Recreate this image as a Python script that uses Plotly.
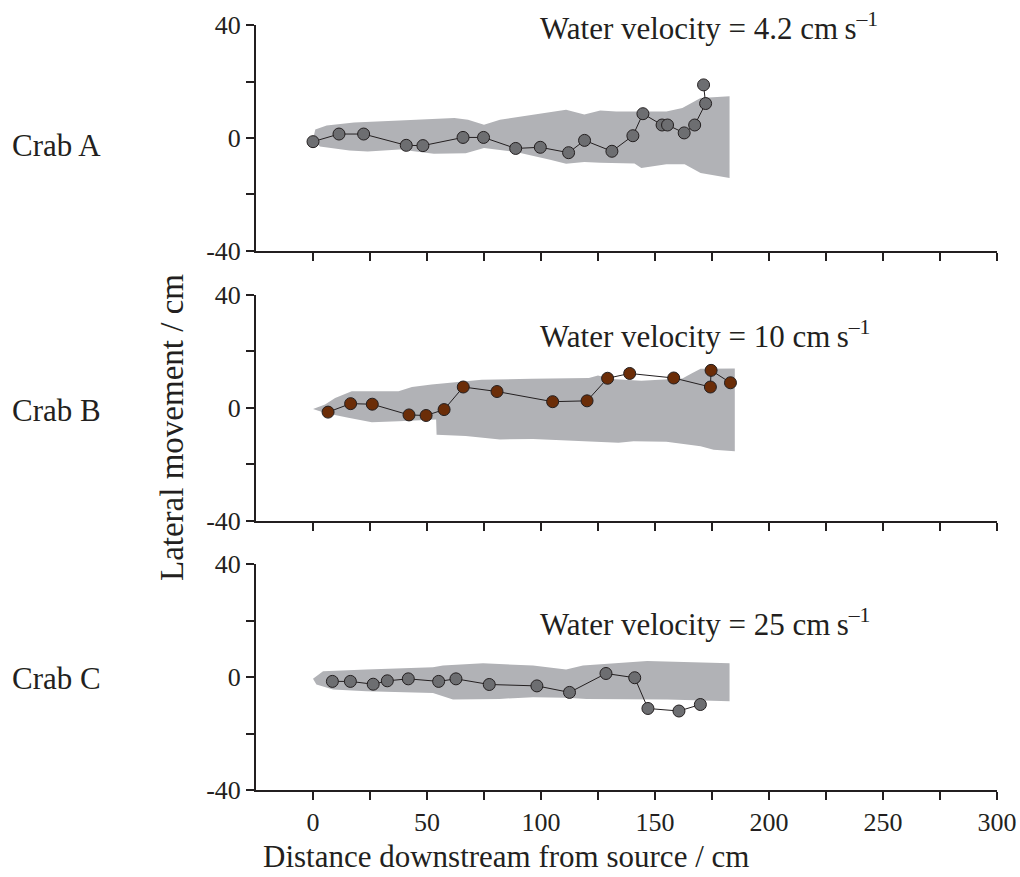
import plotly.graph_objects as go

# ---------------- data ----------------
crab_labels = ["Crab A", "Crab B", "Crab C"]
velocity_labels = ["4.2", "10", "25"]

a_x = [0, 11.4, 22.2, 40.9, 48.2, 65.8, 74.8, 88.9, 99.7, 112.1, 119.1, 131.1, 140.3, 144.7, 153.1, 155.5, 162.8, 167.4, 172.2, 171.3]
a_y = [-1.3, 1.4, 1.4, -2.6, -2.7, 0.2, 0.2, -3.7, -3.3, -5.2, -0.85, -4.7, 0.8, 8.6, 4.6, 4.6, 1.8, 4.6, 12.2, 18.8]

b_x = [6.6, 16.5, 26, 42.1, 49.6, 57.5, 65.9, 80.7, 105.1, 120.2, 129.2, 138.9, 158.2, 174.3, 174.6, 183.1]
b_y = [-1.5, 1.5, 1.3, -2.5, -2.7, -0.6, 7.4, 5.8, 2.2, 2.5, 10.5, 12.2, 10.6, 7.4, 13.3, 8.9]

c_x = [8.5, 16.4, 26.4, 32.6, 41.8, 55.1, 62.7, 77.3, 98.2, 112.5, 128.5, 141.1, 146.9, 160.5, 169.9]
c_y = [-1.5, -1.5, -2.5, -1.3, -0.6, -1.5, -0.6, -2.6, -3.1, -5.4, 1.3, -0.2, -11.1, -12, -9.7]

# plume (grey band) outlines
a_up_x = [0, 1, 6, 18, 38, 62, 68, 75, 82, 97, 111, 119, 126, 133, 141, 155, 162, 170, 182.7]
a_up_y = [-0.5, 3.0, 4.4, 5.5, 6.2, 7.1, 6.5, 4.7, 6.5, 8.3, 10, 8.3, 9.7, 9.4, 9.4, 9.4, 10.6, 14.2, 14.8]
a_lo_x = [0, 3, 16, 24, 38, 53, 67, 75, 89, 104, 111, 119, 126, 135, 141, 144, 155, 163, 170, 182.7]
a_lo_y = [-0.5, -3, -4.4, -4.8, -4.1, -5.6, -5.4, -3.5, -5, -7.7, -9.1, -8.5, -8.8, -9, -9, -10.6, -9.3, -9.3, -12.4, -14.2]

b_up_x = [0, 5.3, 9.7, 17, 37.5, 43.4, 52, 74, 96, 121, 125, 131, 144, 156, 162, 166, 170, 185]
b_up_y = [-0.4, 1.2, 3.5, 5.9, 5.9, 7.4, 8.3, 10, 10.3, 10.6, 11.5, 10.2, 9.6, 10.0, 10.4, 12.2, 13.9, 14.0]
b_lo_x = [0, 5.3, 15.5, 25.8, 37.5, 54, 54.2, 67, 82, 96.5, 111, 134, 140.6, 155, 170, 175.7, 185]
b_lo_y = [-0.4, -1.8, -3.5, -5.1, -4.7, -4.1, -9.5, -10, -11.2, -11, -11.5, -12.4, -11.8, -12, -13.6, -14.8, -15.4]

c_up_x = [0, 4.4, 23.4, 52.6, 57, 74.6, 96.5, 111, 118.4, 134, 146.6, 182.7]
c_up_y = [-0.6, 2.1, 2.7, 3.5, 4.1, 4.9, 4.1, 2.7, 4.1, 4.9, 5.7, 4.9]
c_lo_x = [0, 1.5, 8.8, 23.4, 52.6, 61.4, 81.8, 96.5, 111, 120, 134, 155.5, 182.7]
c_lo_y = [-0.6, -2.6, -4.4, -5, -5.6, -7.9, -7.7, -7.1, -7.3, -7.7, -7.9, -7.9, -8.5]

x_major_ticks = [0, 50, 100, 150, 200, 250, 300]
x_major_text = ["0", "50", "100", "150", "200", "250", "300"]
x_minor_ticks = [25, 75, 125, 175, 225, 275]
y_major_ticks = [-40, 0, 40]
y_major_text = ["-40", "0", "40"]
y_minor_ticks = [-20, 20]

# ---------------- style ----------------
INK = "#231f20"
BAND = "#b1b2b6"
MARKER_COLORS = ["#6d6e71", "#6b2d08", "#6d6e71"]
FONT = "Liberation Serif, Times New Roman, Times, serif"

points = [(a_x, a_y), (b_x, b_y), (c_x, c_y)]
bands = [(a_up_x, a_up_y, a_lo_x, a_lo_y),
         (b_up_x, b_up_y, b_lo_x, b_lo_y),
         (c_up_x, c_up_y, c_lo_x, c_lo_y)]
domains = [[0.7046, 1.0], [0.352, 0.647], [0.0, 0.295]]
vel_y = [39.6, 26.0, 19.4]

W, H = 1020, 877
ML, MR, MT, MB = 256, 23, 25, 87
PX0, PY0 = ML, MT
PW, PH = W - ML - MR, H - MT - MB

fig = go.Figure()
for i in range(3):
    xa = "x" if i == 0 else f"x{i+1}"
    ya = "y" if i == 0 else f"y{i+1}"
    ux, uy, lx, ly = bands[i]
    fig.add_trace(go.Scatter(
        x=ux + lx[::-1], y=uy + ly[::-1], mode="lines", fill="toself",
        fillcolor=BAND, line=dict(width=0, color=BAND),
        xaxis=xa, yaxis=ya, showlegend=False, hoverinfo="skip"))
    px_, py_ = points[i]
    fig.add_trace(go.Scatter(
        x=px_, y=py_, mode="lines+markers",
        line=dict(color=INK, width=1),
        marker=dict(size=12, color=MARKER_COLORS[i], line=dict(color=INK, width=1)),
        xaxis=xa, yaxis=ya, showlegend=False))

axis_common = dict(showline=True, linewidth=2, linecolor=INK, showgrid=False,
                   zeroline=False, ticks="outside", tickcolor=INK, tickwidth=1.5,
                   ticklen=8, automargin=False, ticklabeloverflow="allow",
                   tickfont=dict(family=FONT, size=26, color=INK))

layout = dict(
    width=W, height=H,
    margin=dict(l=ML, r=MR, t=MT, b=MB, autoexpand=False),
    paper_bgcolor="white", plot_bgcolor="white",
    font=dict(family=FONT, color=INK),
    showlegend=False,
)
for i in range(3):
    xk = "xaxis" if i == 0 else f"xaxis{i+1}"
    yk = "yaxis" if i == 0 else f"yaxis{i+1}"
    ya = "y" if i == 0 else f"y{i+1}"
    xa = "x" if i == 0 else f"x{i+1}"
    layout[xk] = dict(axis_common, range=[-25, 300], domain=[0, 1], anchor=ya,
                      tickmode="array", tickvals=x_major_ticks, ticktext=x_major_text,
                      showticklabels=(i == 2),
                      minor=dict(tickmode="array", tickvals=x_minor_ticks, ticks="outside",
                                 ticklen=8, tickwidth=1.5, tickcolor=INK, showgrid=False))
    layout[yk] = dict(axis_common, range=[-40, 40], domain=domains[i], anchor=xa,
                      tickmode="array", tickvals=y_major_ticks, ticktext=y_major_text,
                      minor=dict(tickmode="array", tickvals=y_minor_ticks, ticks="outside",
                                 ticklen=8, tickwidth=1.5, tickcolor=INK, showgrid=False))
fig.update_layout(**layout)


def px_to_paper(px, py):
    return (px - PX0) / PW, (PY0 + PH - py) / PH


annotations = []
crab_y_px = [145, 410, 678]
for i in range(3):
    xa = "x" if i == 0 else f"x{i+1}"
    ya = "y" if i == 0 else f"y{i+1}"
    annotations.append(dict(
        text=f"Water velocity = {velocity_labels[i]} cm\u2009s<sup>\u20131</sup>",
        x=98.8, y=vel_y[i], xref=xa, yref=ya, xanchor="left", yanchor="middle",
        showarrow=False, font=dict(family=FONT, size=31, color=INK)))
    cx, cy = px_to_paper(10, crab_y_px[i])
    annotations.append(dict(
        text=crab_labels[i], x=cx, y=cy,
        xref="paper", yref="paper", xanchor="left", yanchor="middle",
        showarrow=False, font=dict(family=FONT, size=31, color=INK)))

tx, ty = px_to_paper(172, 428)
annotations.append(dict(
    text="Lateral movement / cm", x=tx, y=ty,
    xref="paper", yref="paper", xanchor="center", yanchor="middle", textangle=-90,
    showarrow=False, font=dict(family=FONT, size=33, color=INK)))
tx, ty = px_to_paper(506, 857)
annotations.append(dict(
    text="Distance downstream from source / cm", x=tx, y=ty,
    xref="paper", yref="paper", xanchor="center", yanchor="middle",
    showarrow=False, font=dict(family=FONT, size=31, color=INK)))
fig.update_layout(annotations=annotations)

# the page body normally has an 8px margin; remove it so the figure fills the window
fig.write_html("out.html",
               config={"displayModeBar": False},
               post_script="document.body.style.margin='0';document.body.style.overflow='hidden';")
